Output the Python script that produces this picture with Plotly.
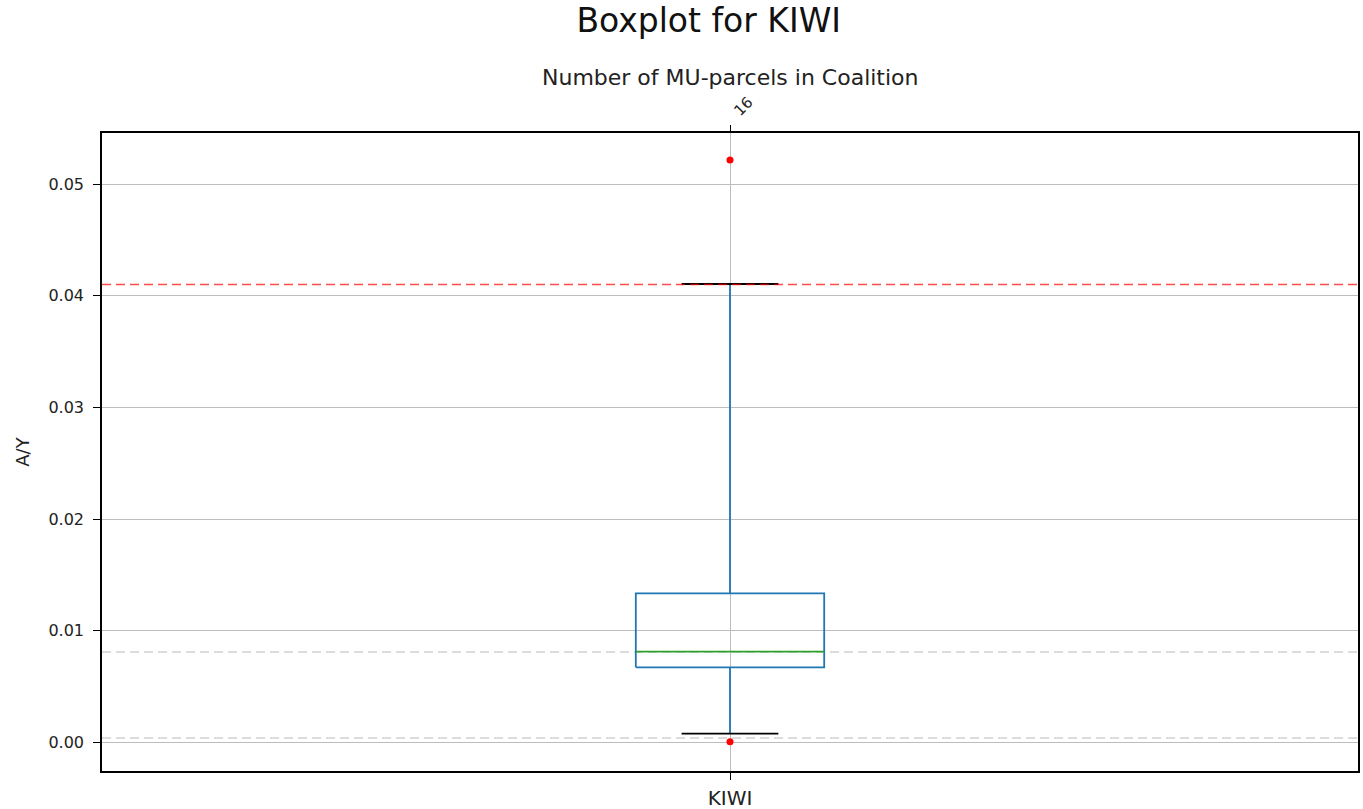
import plotly.graph_objects as go

# ---- data ----
category = ["KIWI"]
coalition_size = ["16"]
q1 = [0.00673]
median = [0.00813]
q3 = [0.01336]
whisker_low = [0.00079]
whisker_high = [0.04105]
outliers = [0.05216, 0.00007]
ref_red = 0.0410
ref_gray = [0.0081, 0.0004]
yticks = [0.00, 0.01, 0.02, 0.03, 0.04, 0.05]

xpos = 1.0
bw = 0.075   # half box width
cw = 0.0385  # half cap width

fig = go.Figure()

BLUE = "#1f77b4"
LW = 1.8
# whiskers
fig.add_trace(go.Scatter(x=[xpos, xpos], y=[q3[0], whisker_high[0]], mode="lines",
                         line=dict(color=BLUE, width=LW), showlegend=False, hoverinfo="skip"))
fig.add_trace(go.Scatter(x=[xpos, xpos], y=[whisker_low[0], q1[0]], mode="lines",
                         line=dict(color=BLUE, width=LW), showlegend=False, hoverinfo="skip"))
# box
fig.add_trace(go.Scatter(x=[xpos - bw, xpos + bw, xpos + bw, xpos - bw, xpos - bw],
                         y=[q1[0], q1[0], q3[0], q3[0], q1[0]], mode="lines",
                         line=dict(color=BLUE, width=LW), showlegend=False, hoverinfo="skip"))
# median
fig.add_trace(go.Scatter(x=[xpos - bw, xpos + bw], y=[median[0], median[0]], mode="lines",
                         line=dict(color="#2ca02c", width=LW), showlegend=False, hoverinfo="skip"))
# caps
for v in (whisker_low[0], whisker_high[0]):
    fig.add_trace(go.Scatter(x=[xpos - cw, xpos + cw], y=[v, v], mode="lines",
                             line=dict(color="black", width=LW), showlegend=False, hoverinfo="skip"))
# reference lines
fig.add_hline(y=ref_red, line=dict(color="rgba(255,0,0,0.7)", width=1.5, dash="9px,5px"), layer="above")
for g in ref_gray:
    fig.add_hline(y=g, line=dict(color="rgba(170,170,170,0.55)", width=1.5, dash="9px,5px"), layer="below")
# outliers
fig.add_trace(go.Scatter(x=[xpos] * len(outliers), y=outliers, mode="markers",
                         marker=dict(color="red", size=7), showlegend=False, hoverinfo="skip"))
# invisible trace for top axis
fig.add_trace(go.Scatter(x=[xpos], y=[median[0]], xaxis="x2", mode="markers",
                         marker=dict(opacity=0), showlegend=False, hoverinfo="skip"))

FONT = "DejaVu Sans"
GRID = "#bdbdbd"
fig.update_layout(
    width=1363, height=809,
    paper_bgcolor="white", plot_bgcolor="white",
    margin=dict(l=102, r=5, t=133, b=38, autoexpand=False),
    font=dict(family=FONT, color="#222", size=12),
    title=dict(text="Boxplot for KIWI", x=0.52, xanchor="center", y=0.975, yanchor="middle",
               font=dict(size=33, family=FONT, color="#111")),
    xaxis=dict(range=[0.5, 1.5], tickvals=[xpos], ticktext=category, automargin=False,
               showgrid=True, gridcolor=GRID, gridwidth=1.4,
               showline=True, linecolor="black", linewidth=1.6, mirror=True,
               ticks="outside", ticklen=7, tickcolor="black", tickwidth=1.3,
               ticklabelstandoff=1,
               tickfont=dict(size=20, family=FONT), zeroline=False),
    xaxis2=dict(range=[0.5, 1.5], overlaying="x", side="top", tickvals=[xpos], automargin=False,
                ticktext=coalition_size, tickangle=-45, showgrid=False,
                ticks="outside", ticklen=7, tickcolor="black", tickwidth=1.3,
                ticklabelshift=5,
                tickfont=dict(size=15, family=FONT), zeroline=False),
    yaxis=dict(range=[-0.00255, 0.05457], tickvals=yticks, tickformat=".2f", automargin=False,
               showgrid=True, gridcolor=GRID, gridwidth=1.4,
               showline=True, linecolor="black", linewidth=1.6, mirror=True,
               ticks="outside", ticklen=7, tickcolor="black", tickwidth=1.3,
               ticklabelstandoff=6,
               tickfont=dict(size=16, family=FONT), zeroline=False,
               title=dict(text="A/Y", font=dict(size=18, family=FONT), standoff=14)),
    annotations=[dict(text="Number of MU-parcels in Coalition", xref="paper", yref="paper",
                      x=0.5, y=1 + 55 / 638, xanchor="center", yanchor="middle", showarrow=False,
                      font=dict(size=22, family=FONT, color="#222"))],
)

fig.write_html("out.html")
